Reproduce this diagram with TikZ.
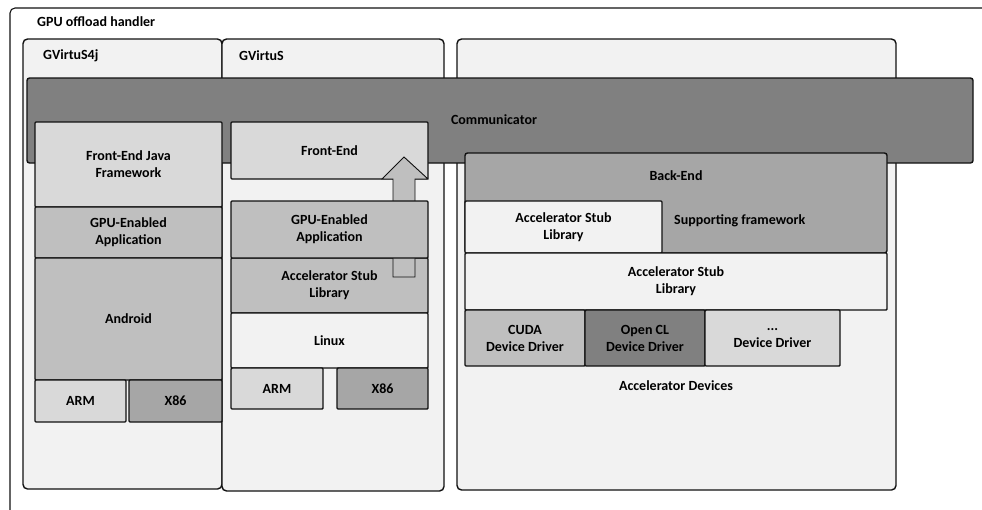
\documentclass[tikz,border=0pt]{standalone}
\usepackage{fontspec}
\setmainfont{Carlito}
\usepackage{tikz}
\usetikzlibrary{positioning}

\definecolor{g1}{HTML}{F2F2F2}
\definecolor{g2}{HTML}{D9D9D9}
\definecolor{g3}{HTML}{BFBFBF}
\definecolor{g4}{HTML}{A6A6A6}
\definecolor{g5}{HTML}{808080}
\definecolor{edge}{HTML}{111111}

\tikzset{
  layer/.style={draw=edge, line width=1.4pt, rounded corners=1pt, anchor=north west,
    inner sep=0pt, outer sep=0pt, align=center,
    font=\fontsize{14}{17}\selectfont\bfseries},
  txt/.style={inner sep=0pt, font=\fontsize{14}{17}\selectfont\bfseries},
  frame/.style={draw=edge, line width=1.4pt, rounded corners=4.5pt, fill=g1}
}

\begin{document}
\begin{tikzpicture}[x=1pt,y=-1pt]
			\useasboundingbox (0,0) rectangle (982,509);
			% outer frame
			\draw[draw=edge, line width=1.1pt, rounded corners=5pt] (10,8) rectangle (995,520);
			\node[txt, anchor=west] (handler) at (37,22) {GPU offload handler};
			% containers
			\draw[frame] (23,39) rectangle (222,489);
			\draw[frame] (222,39) rectangle (444,491);
			\draw[frame] (457,39) rectangle (896,490);
			\node[txt, anchor=west] (gv4j) at (43,56) {GVirtuS4j};
			\node[txt, anchor=west] (gv) at (239,56) {GVirtuS};
			% communicator
			\node[layer, fill=g5, rounded corners=2.5pt, minimum width=946pt, minimum height=85pt] (comm) at (27,78) {};
			\node[txt] (commtxt) at (494,120) {Communicator};
			% GVirtuS4j stack
			\node[layer, fill=g2, minimum width=187pt, minimum height=85pt] (fejava) at (35,122) {Front-End Java\\Framework};
			\node[layer, fill=g3, minimum width=187pt, minimum height=51pt] (appl) at (35,207) {GPU-Enabled\\Application};
			\node[layer, fill=g3, minimum width=187pt, minimum height=122pt] (android) at (35,258) {Android};
			\node[layer, fill=g2, minimum width=91pt, minimum height=42pt] (arml) at (35,380) {ARM};
			\node[layer, fill=g4, minimum width=93pt, minimum height=42pt] (x86l) at (129,380) {X86};
			% GVirtuS stack
			\node[layer, fill=g2, minimum width=197pt, minimum height=57pt] (fe) at (231,122) {Front-End};
			\node[layer, fill=g3, minimum width=197pt, minimum height=55pt] (stubm) at (231,258) {Accelerator Stub\\Library};
			\node[layer, fill=g1, minimum width=197pt, minimum height=55pt] (linux) at (231,313) {Linux};
			\node[layer, fill=g2, minimum width=92pt, minimum height=41pt] (armm) at (231,368) {ARM};
			\node[layer, fill=g4, minimum width=91pt, minimum height=41pt] (x86m) at (337,368) {X86};
			% up arrow
			\draw[draw=edge, line width=0.9pt, fill=g3] (393,277) -- (393,179) -- (382,179) -- (404,157) -- (428,179) -- (415,179) -- (415,277) -- cycle;
			\node[layer, fill=g3, minimum width=197pt, minimum height=57pt] (appm) at (231,201) {GPU-Enabled\\Application};
			% back-end stack
			\node[layer, fill=g4, rounded corners=2.5pt, minimum width=422pt, minimum height=100pt] (backend) at (465,153) {};
			\node[txt] (betxt) at (676,176) {Back-End};
			\node[layer, fill=g1, minimum width=197pt, minimum height=52pt] (stubr) at (465,201) {Accelerator Stub\\Library};
			\node[txt, anchor=west] (suppfw) at (674,221) {Supporting framework};
			\node[layer, fill=g1, minimum width=422pt, minimum height=57pt] (stublow) at (465,253) {Accelerator Stub\\Library};
			\node[layer, fill=g3, minimum width=120pt, minimum height=56pt] (cuda) at (465,310) {CUDA\\Device Driver};
			\node[layer, fill=g5, minimum width=120pt, minimum height=56pt] (opencl) at (585,310) {Open CL\\Device Driver};
			\node[layer, fill=g2, minimum width=135pt, minimum height=56pt] (otherdd) at (705,310) {...\\Device Driver};
			\node[txt] (accdev) at (676,386) {Accelerator Devices};
		\end{tikzpicture}
\end{document}
